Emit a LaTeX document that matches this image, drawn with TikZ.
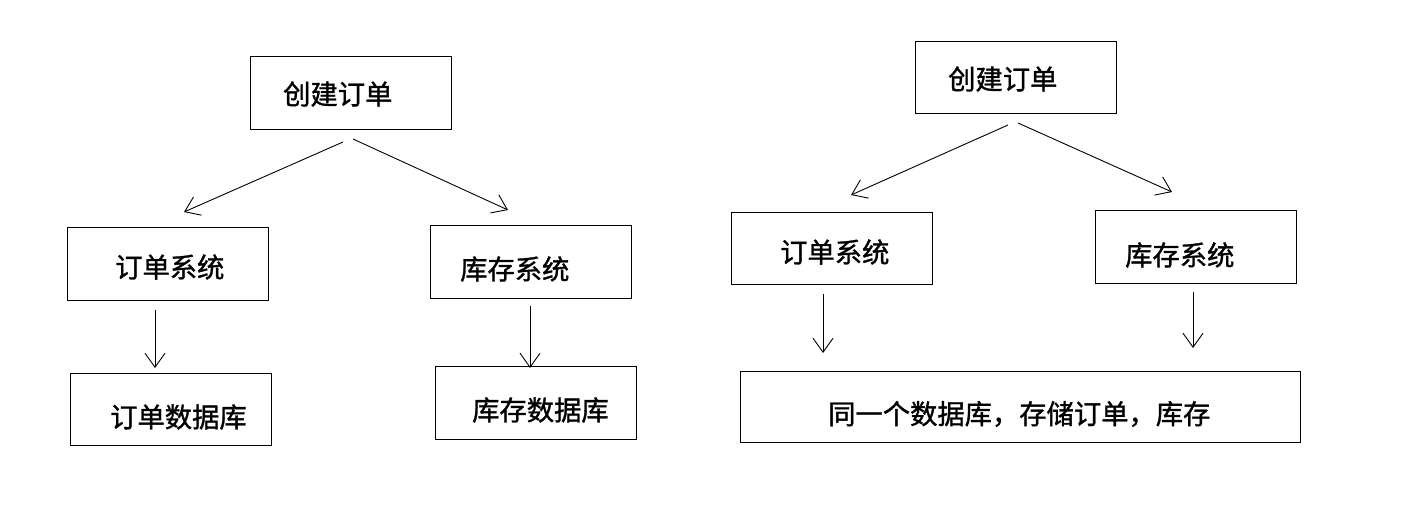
\documentclass[tikz,border=0pt]{standalone}
\usepackage{fontspec}
\newfontfamily\cjk[FakeBold=1.2]{Noto Sans CJK SC}
\usetikzlibrary{arrows.meta}
\tikzset{
  box/.style={draw=black, line width=1.3pt, minimum width=201pt, minimum height=73pt, inner sep=0pt, anchor=north west},
  wide/.style={box, minimum width=560pt, minimum height=71pt},
  lbl/.style={font=\cjk\fontsize{27.3pt}{27.3pt}\selectfont, anchor=west, inner sep=0pt},
  arr/.style={draw=black, line width=0.9pt, -{Straight Barb[length=14pt,width=20pt,line width=0.9pt]}}
}
\begin{document}
\begin{tikzpicture}[x=1pt,y=-1pt]
\useasboundingbox (0,0) rectangle (1413,505);
% left diagram
\node[box] (lc) at (250,56) {};
\node[lbl] (lct) at (283,94) {创建订单};
\node[box] (lo) at (67,227) {};
\node[lbl] (lot) at (115,267) {订单系统};
\node[box] (ls) at (430,225) {};
\node[lbl] (lst) at (460,269) {库存系统};
\node[box, minimum height=72pt] (lod) at (70,373) {};
\node[lbl] (lodt) at (110,417) {订单数据库};
\node[box] (lsd) at (435,366) {};
\node[lbl] (lsdt) at (472,410) {库存数据库};
\coordinate (a1s) at (343,142); \coordinate (a1e) at (184,212);
\coordinate (a2s) at (353,139); \coordinate (a2e) at (508,210);
\coordinate (a3s) at (155,310); \coordinate (a3e) at (155,368);
\coordinate (a4s) at (530,306); \coordinate (a4e) at (530,368);
\draw[arr] (a1s) -- (a1e);
\draw[arr] (a2s) -- (a2e);
\draw[arr] (a3s) -- (a3e);
\draw[arr] (a4s) -- (a4e);
% right diagram
\node[box, minimum height=72pt] (rc) at (915,41) {};
\node[lbl] (rct) at (948,79) {创建订单};
\node[box, minimum height=72pt] (ro) at (731,212) {};
\node[lbl] (rot) at (780,252) {订单系统};
\node[box] (rs) at (1095,210) {};
\node[lbl] (rst) at (1125,255) {库存系统};
\node[wide] (rd) at (740,371) {};
\node[lbl] (rdt) at (828,414) {同一个数据库，存储订单，库存};
\coordinate (b1s) at (1008,125); \coordinate (b1e) at (851,195);
\coordinate (b2s) at (1018,123); \coordinate (b2e) at (1172,192);
\coordinate (b3s) at (823,294); \coordinate (b3e) at (823,353);
\coordinate (b4s) at (1193,292); \coordinate (b4e) at (1193,348);
\draw[arr] (b1s) -- (b1e);
\draw[arr] (b2s) -- (b2e);
\draw[arr] (b3s) -- (b3e);
\draw[arr] (b4s) -- (b4e);
\end{tikzpicture}
\end{document}
